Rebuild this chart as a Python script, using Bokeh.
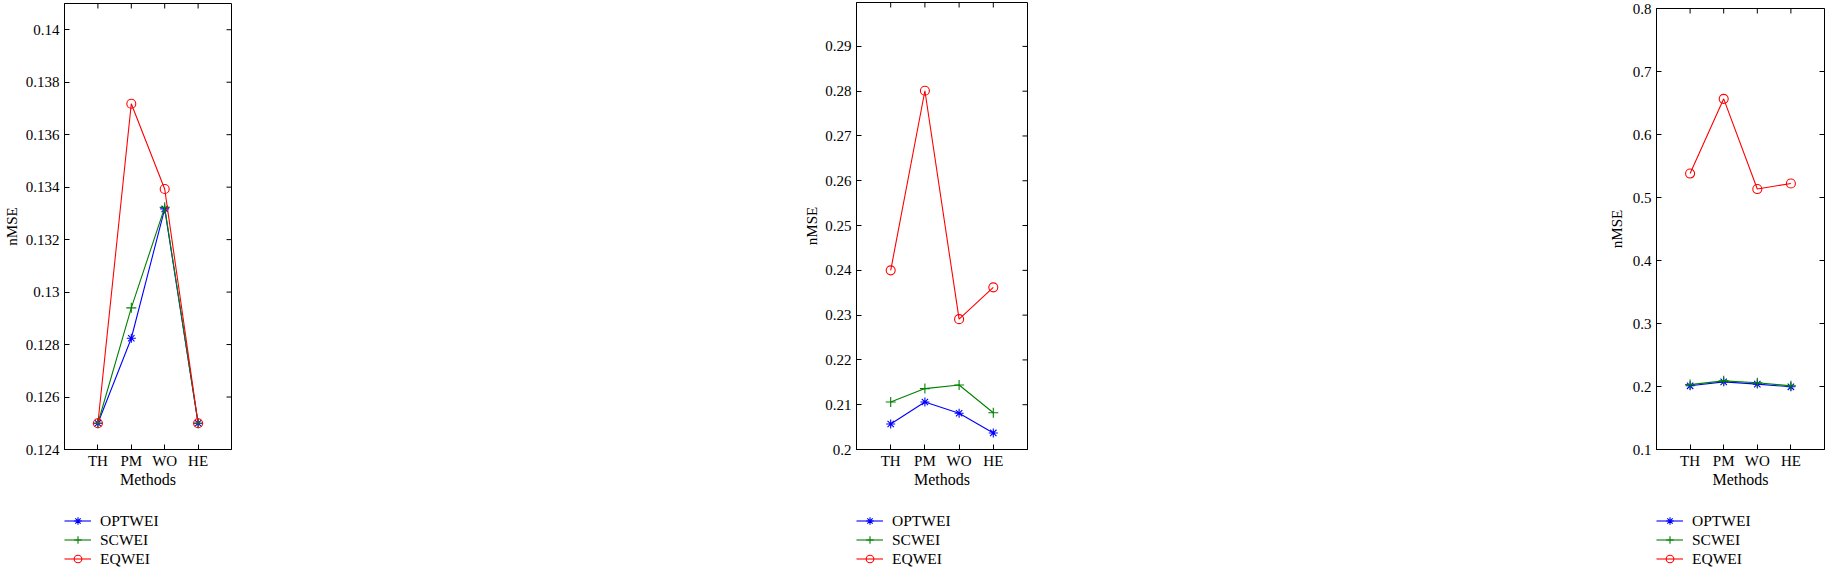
import math
from bokeh.plotting import figure
from bokeh.models import FixedTicker, LinearAxis, Range1d, Legend, LegendItem
from bokeh.layouts import row, column
from bokeh.embed import file_html
from bokeh.resources import INLINE

# ---------------- data ----------------
methods = ["TH", "PM", "WO", "HE"]
series_names = ["OPTWEI", "SCWEI", "EQWEI"]

p1_optwei = [0.1250, 0.12824, 0.13317, 0.1250]
p1_scwei = [0.1250, 0.12940, 0.13323, 0.1250]
p1_eqwei = [0.1250, 0.13718, 0.13393, 0.1250]

p2_optwei = [0.2057, 0.2106, 0.2081, 0.2037]
p2_scwei = [0.2106, 0.2136, 0.2144, 0.2082]
p2_eqwei = [0.2400, 0.2801, 0.2291, 0.2362]

p3_optwei = [0.2011, 0.2074, 0.2038, 0.1995]
p3_scwei = [0.2030, 0.2090, 0.2060, 0.2010]
p3_eqwei = [0.5380, 0.6566, 0.5134, 0.5223]

p1_yticks = [0.124, 0.126, 0.128, 0.13, 0.132, 0.134, 0.136, 0.138, 0.14]
p2_yticks = [0.2, 0.21, 0.22, 0.23, 0.24, 0.25, 0.26, 0.27, 0.28, 0.29]
p3_yticks = [0.1, 0.2, 0.3, 0.4, 0.5, 0.6, 0.7, 0.8]

p1_ylim = (0.124, 0.141)
p2_ylim = (0.2, 0.2998)
p3_ylim = (0.1, 0.8)

# ---------------- styling ----------------
FONT = "Liberation Serif"
COLORS = ["#0000ff", "#008000", "#ff0000"]
MARKERS = ["asterisk", "cross", "circle"]
MSIZES = [9, 10, 9]

x_pos = list(range(1, len(methods) + 1))
x_lim = (0, len(methods) + 1)
PLOT_H = 500
FRAME_BOTTOM = 449
LEG_H = 70


def style_axis(ax, ticks, overrides):
    ax.ticker = FixedTicker(ticks=ticks)
    ax.major_label_overrides = overrides
    ax.major_tick_in = 5
    ax.major_tick_out = 0
    ax.minor_tick_in = 0
    ax.minor_tick_out = 0
    ax.axis_line_color = "black"
    ax.major_tick_line_color = "black"
    ax.major_label_text_font = FONT
    ax.major_label_text_font_size = "15px"
    ax.major_label_text_color = "black"
    ax.axis_label_text_font = FONT
    ax.axis_label_text_font_style = "normal"
    ax.axis_label_text_color = "black"


def make_panel(series, yticks, ylim, width, left, right, top, ylabel_standoff):
    p = figure(width=width, height=PLOT_H, output_backend="svg", toolbar_location=None,
               x_range=Range1d(*x_lim), y_range=Range1d(*ylim),
               min_border_left=left, min_border_right=right,
               min_border_top=top, min_border_bottom=PLOT_H - FRAME_BOTTOM,
               x_axis_type=None, y_axis_type=None)
    p.grid.visible = False
    p.outline_line_color = "black"
    p.outline_line_width = 1
    p.background_fill_color = "white"
    p.border_fill_color = "white"

    x_over = {float(x): m for x, m in zip(x_pos, methods)}
    y_over = {float(t): f"{t:g}" for t in yticks}

    xb = LinearAxis(axis_label="Methods")
    style_axis(xb, x_pos, x_over)
    xb.major_label_standoff = 3
    xb.axis_label_standoff = -1
    xb.axis_label_text_font_size = "16px"
    p.add_layout(xb, "below")

    yl = LinearAxis(axis_label="nMSE")
    style_axis(yl, yticks, y_over)
    yl.major_label_standoff = 5
    yl.axis_label_standoff = ylabel_standoff
    yl.axis_label_text_font_size = "15px"
    p.add_layout(yl, "left")

    # inward box ticks on the top and right edges (clipped to the frame)
    p.scatter(x_pos, [ylim[1]] * len(x_pos), marker="dash", angle=math.pi / 2,
              size=10, line_color="black", line_width=1)
    p.scatter([x_lim[1]] * len(yticks), yticks, marker="dash",
              size=10, line_color="black", line_width=1)

    for vals, c, m, s in zip(series, COLORS, MARKERS, MSIZES):
        p.line(x_pos, vals, line_color=c, line_width=1.1)
        p.scatter(x_pos, vals, marker=m, size=s, line_color=c,
                  fill_color=None, line_width=1.1)

    # legend strip below the plot (its ranges keep the series out of view)
    q = figure(width=width, height=LEG_H, output_backend="svg", toolbar_location=None,
               x_range=Range1d(*x_lim), y_range=Range1d(10, 11),
               min_border_left=left, min_border_right=0,
               min_border_top=11, min_border_bottom=0,
               x_axis_type=None, y_axis_type=None)
    q.grid.visible = False
    q.outline_line_color = None
    q.background_fill_color = "white"
    q.border_fill_color = "white"
    items = []
    for name, vals, c, m, s in zip(series_names, series, COLORS, MARKERS, MSIZES):
        lr = q.line(x_pos, vals, line_color=c, line_width=1.1)
        sr = q.scatter(x_pos, vals, marker=m, size=s, line_color=c,
                       fill_color=None, line_width=1.1)
        items.append(LegendItem(label=name, renderers=[lr, sr]))
    legend = Legend(items=items, location="top_left", orientation="vertical")
    legend.margin = 0
    legend.padding = 0
    legend.spacing = 0
    legend.glyph_width = 27
    legend.glyph_height = 19
    legend.label_height = 19
    legend.label_standoff = 9
    legend.label_text_font = FONT
    legend.label_text_font_size = "15.5px"
    legend.label_text_color = "black"
    legend.border_line_color = None
    legend.background_fill_alpha = 0
    q.add_layout(legend, "center")
    return column(p, q, spacing=0)


c1 = make_panel([p1_optwei, p1_scwei, p1_eqwei], p1_yticks, p1_ylim,
                width=796, left=60, right=565, top=3, ylabel_standoff=3)
c2 = make_panel([p2_optwei, p2_scwei, p2_eqwei], p2_yticks, p2_ylim,
                width=800, left=60, right=569, top=2, ylabel_standoff=2)
c3 = make_panel([p3_optwei, p3_scwei, p3_eqwei], p3_yticks, p3_ylim,
                width=230, left=60, right=2, top=8, ylabel_standoff=5)

layout = row(c1, c2, c3, spacing=0)

with open("out.html", "w") as f:
    f.write(file_html(layout, INLINE))
